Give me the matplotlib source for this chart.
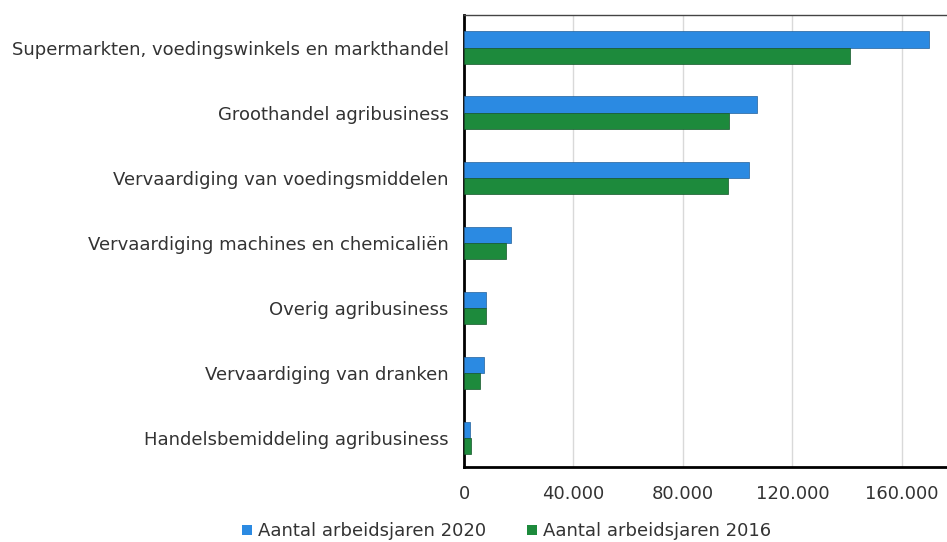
import matplotlib.pyplot as plt
import numpy as np
from matplotlib.ticker import FuncFormatter

# data (aantal arbeidsjaren)
categories = [
    "Supermarkten, voedingswinkels en markthandel",
    "Groothandel agribusiness",
    "Vervaardiging van voedingsmiddelen",
    "Vervaardiging machines en chemicaliën",
    "Overig agribusiness",
    "Vervaardiging van dranken",
    "Handelsbemiddeling agribusiness",
]
jaren_2020 = [170000, 107000, 104000, 17000, 8000, 7400, 2200]
jaren_2016 = [141000, 97000, 96500, 15300, 8000, 5900, 2500]
series_labels = ["Aantal arbeidsjaren 2020", "Aantal arbeidsjaren 2016"]
xticks = [0, 40000, 80000, 120000, 160000]

blue = "#2b8ae2"
green = "#1d8a3c"
text_color = "#333333"
fs = 13

fig = plt.figure(figsize=(9.47, 5.42), dpi=100)
ax = fig.add_axes([0.49, 0.138, 0.52, 0.834])

y = np.arange(len(categories))
h = 0.25
ax.barh(y - h / 2, jaren_2020, height=h, color=blue, edgecolor="#22609a", linewidth=0.5,
        label=series_labels[0], zorder=3)
ax.barh(y + h / 2, jaren_2016, height=h, color=green, edgecolor="#14562a", linewidth=0.5,
        label=series_labels[1], zorder=3)

ax.set_ylim(6.45, -0.5)
ax.set_xlim(0, 180000)
ax.set_yticks(y)
ax.set_yticklabels(categories, fontsize=fs, color=text_color)
ax.set_xticks(xticks)
ax.xaxis.set_major_formatter(FuncFormatter(lambda v, p: f"{int(v):,}".replace(",", ".")))
ax.tick_params(axis="x", labelsize=fs, labelcolor=text_color, length=0, pad=13)
ax.tick_params(axis="y", length=0, pad=11)

ax.grid(axis="x", color="#d9d9d9", linewidth=1, zorder=0)
ax.spines["right"].set_visible(False)
ax.spines["left"].set_linewidth(2)
ax.spines["bottom"].set_linewidth(2)
ax.spines["top"].set_linewidth(1)
ax.spines["top"].set_color("#444444")

handles, labels = ax.get_legend_handles_labels()
leg = fig.legend(handles, labels, loc="lower center", bbox_to_anchor=(0.535, -0.027), ncol=2,
                 frameon=False, fontsize=fs, handlelength=0.55, handleheight=0.55,
                 handletextpad=0.3, columnspacing=2.3)
for t in leg.get_texts():
    t.set_color(text_color)
for p in leg.get_patches():
    p.set_edgecolor("none")

fig.savefig("out.png", dpi=100)
